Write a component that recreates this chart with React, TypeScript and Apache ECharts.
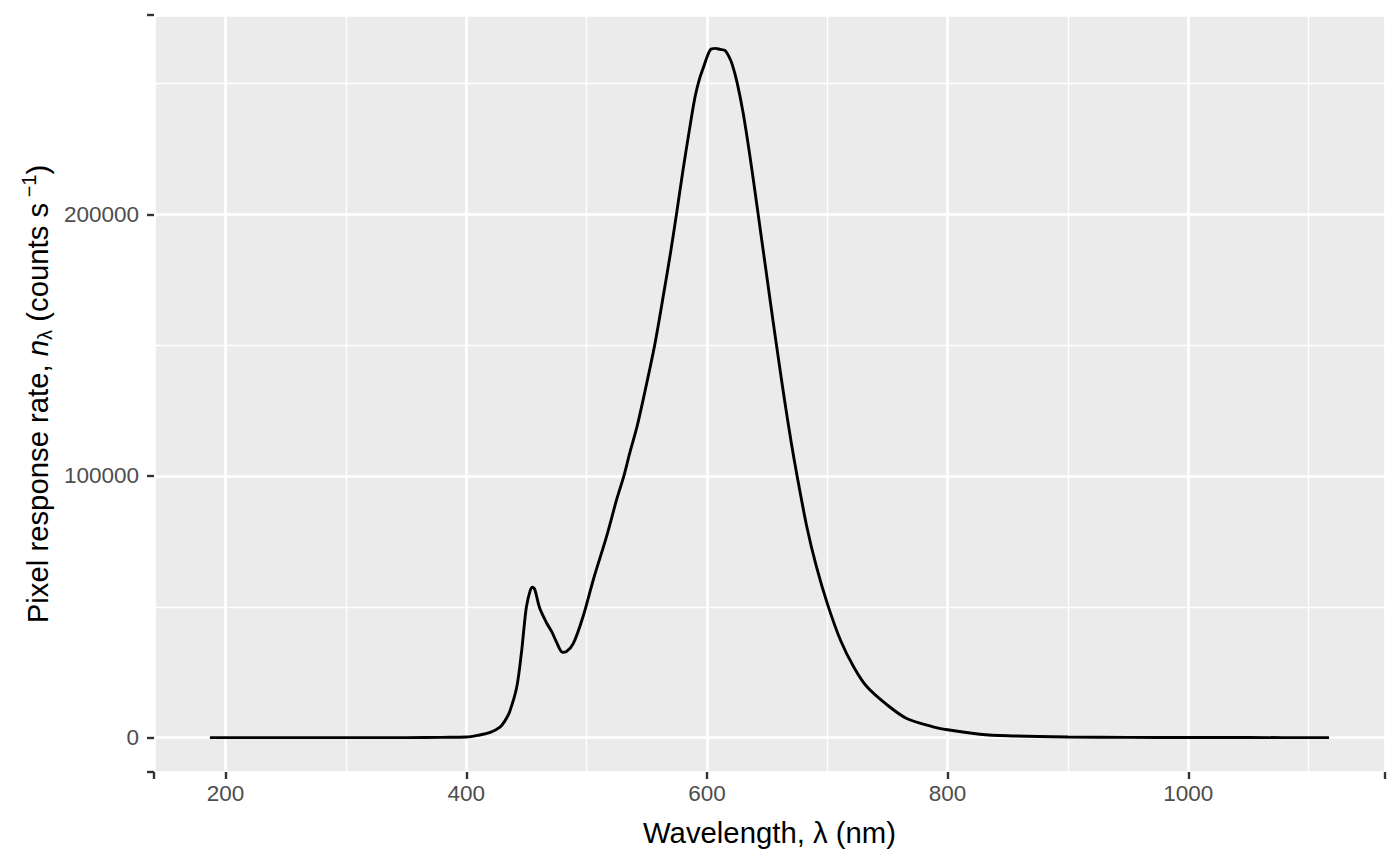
import React, { useEffect, useRef } from "react";
import * as echarts from "echarts";

// Wavelength (nm) and pixel response rate (counts s^-1)
const wavelength = [
  187, 200, 250, 300, 350, 380, 400, 410, 420, 428, 432, 436, 442, 446, 448, 450, 453, 455, 457,
  461, 467, 471, 475, 480, 483, 489, 497, 506, 517, 525, 531, 536, 542, 550, 557, 564, 570, 575,
  580, 585, 590, 594, 597, 600, 603, 607, 611, 615, 618, 621, 625, 630, 635, 640, 645, 650, 655,
  660, 665, 670, 675, 683, 691, 700, 711, 722, 733, 750, 766, 788, 800, 827, 850, 900, 950, 1000, 1050, 1117,
];
const rate = [
  0, 0, 0, 0, 0, 100, 200, 900, 2000, 4000, 6300, 9800, 19400, 33000, 42000, 50000, 56000, 57500, 56500,
  49500, 43600, 40500, 36500, 32600, 32800, 36000, 46200, 61000, 77500, 91000, 100000, 109000, 119000, 135500, 151000, 169500, 186000, 201000,
  216500, 231000, 244500, 252000, 256000, 260000, 263000, 263400, 263000, 262600, 260500, 257300, 250500, 239000, 224500, 208500, 192000, 175500, 159000,
  143000, 127500, 113000, 99800, 80600, 65300, 51300, 37200, 27000, 19400, 12400, 7300, 4100, 3000, 1300, 700, 250, 100, 40, 10, 0,
];
const xTickValues = [200, 400, 600, 800, 1000];
const yTickValues = [0, 100000, 200000];

const FONT = "'Liberation Sans', Arial, sans-serif";
const X_MIN = 140.5, X_MAX = 1163.5, Y_MIN = -13150, Y_MAX = 276150;

export default function App() {
  const ref = useRef<HTMLDivElement>(null);
  useEffect(() => {
    if (!ref.current) return;
    const chart = echarts.init(ref.current, undefined, { renderer: "svg" });
    const data = wavelength.map((w, i) => [w, rate[i]]);
    const tickStyle = { color: "#333333", width: 2.4 };
    const axisLine = { show: true, onZero: false, lineStyle: { color: "#FFFFFF", width: 1 } };
    chart.setOption({
      animation: false,
      backgroundColor: "#FFFFFF",
      grid: {
        left: 154, right: 15, top: 15, bottom: 94,
        show: true, backgroundColor: "#EBEBEB", borderWidth: 0,
      },
      xAxis: {
        type: "value", min: X_MIN, max: X_MAX, splitNumber: 5,
        axisLine,
        axisTick: { show: true, length: 7, lineStyle: tickStyle },
        axisLabel: {
          color: "#4D4D4D", fontSize: 22.5, fontFamily: FONT, margin: 10,
          formatter: (v: number) => (xTickValues.includes(v) ? String(v) : ""),
        },
        splitLine: { show: true, lineStyle: { color: "#FFFFFF", width: 2.7 } },
        minorTick: { show: false, splitNumber: 2 },
        minorSplitLine: { show: true, lineStyle: { color: "#FFFFFF", width: 1.35 } },
      },
      yAxis: {
        type: "value", min: Y_MIN, max: Y_MAX, splitNumber: 3,
        axisLine,
        axisTick: { show: true, length: 7, lineStyle: tickStyle },
        axisLabel: {
          color: "#4D4D4D", fontSize: 22.5, fontFamily: FONT, margin: 15,
          formatter: (v: number) => (yTickValues.includes(v) ? String(v) : ""),
        },
        splitLine: { show: true, lineStyle: { color: "#FFFFFF", width: 2.7 } },
        minorTick: { show: false, splitNumber: 2 },
        minorSplitLine: { show: true, lineStyle: { color: "#FFFFFF", width: 1.35 } },
      },
      series: [
        {
          type: "line", data, showSymbol: false, smooth: 0.3,
          lineStyle: { color: "#000000", width: 2.9 },
        },
      ],
      graphic: [
        {
          type: "text", x: 769.5, y: 832,
          style: {
            text: "Wavelength, λ (nm)", fill: "#000000", fontSize: 29.3, fontFamily: FONT,
            align: "center", verticalAlign: "middle",
          },
        },
        {
          type: "text", x: 37, y: 394, rotation: Math.PI / 2,
          style: {
            text: "{a|Pixel response rate, }{i|n}{s|λ}{a| (counts s}{p| −1}{a|)}",
            fill: "#000000", fontSize: 29.3, fontFamily: FONT,
            align: "center", verticalAlign: "middle",
            rich: {
              a: { fontSize: 29.3, fontFamily: FONT, lineHeight: 36, fill: "#000000" },
              i: { fontSize: 29.3, fontFamily: FONT, fontStyle: "italic", lineHeight: 36, fill: "#000000" },
              s: { fontSize: 20, fontFamily: FONT, lineHeight: 20, verticalAlign: "bottom", fill: "#000000" },
              p: { fontSize: 20, fontFamily: FONT, lineHeight: 20, verticalAlign: "top", fill: "#000000" },
            },
          },
        },
      ],
    });
    return () => chart.dispose();
  }, []);
  return (
    <div
      ref={ref}
      style={{ position: "fixed", left: 0, top: 0, width: 1400, height: 866 }}
    />
  );
}
